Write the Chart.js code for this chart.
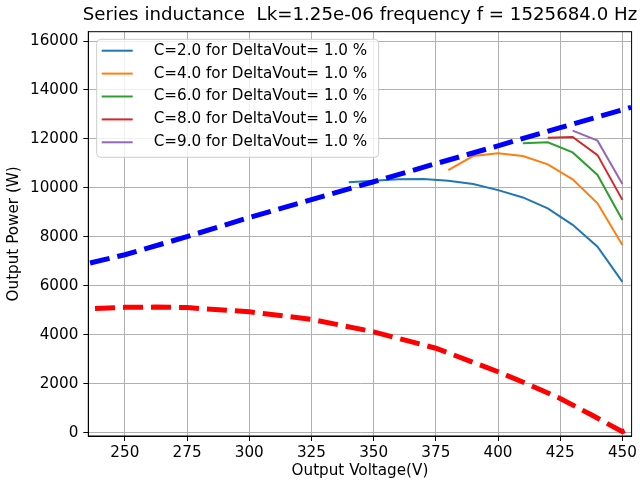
<!DOCTYPE html>
<html>
<head>
<meta charset="utf-8">
<script src="https://cdn.jsdelivr.net/npm/chart.js@4.4.0/dist/chart.umd.min.js"></script>
<style>
  html, body { margin: 0; padding: 0; background: #fff; }
  #wrap { position: relative; width: 640px; height: 485px; }
</style>
</head>
<body>
<div id="wrap"><canvas id="chart"></canvas></div>
<script>
// values
const xTicks = [250, 275, 300, 325, 350, 375, 400, 425, 450];
const yTicks = [0, 2000, 4000, 6000, 8000, 10000, 12000, 14000, 16000];

const voltsUpper = [236, 250, 275, 300, 325, 350, 375, 400, 425, 450, 453.5];
const powerUpper = [6930, 7270, 8010, 8790, 9520, 10250, 10990, 11720, 12460, 13190, 13290];

const voltsLower = [238, 250, 262, 275, 300, 325, 350, 375, 400, 412.5, 425, 437.5, 450, 453.5];
const powerLower = [5070, 5120, 5130, 5110, 4940, 4630, 4120, 3450, 2490, 1960, 1400, 730, 40, 220];

const voltsC2 = [340, 350, 360, 370, 380, 390, 400, 410, 420, 430, 440, 450];
const powerC2 = [10230, 10290, 10350, 10360, 10290, 10160, 9910, 9610, 9160, 8490, 7600, 6160];
const voltsC4 = [380, 390, 400, 410, 420, 430, 440, 450];
const powerC4 = [10730, 11300, 11410, 11300, 10960, 10350, 9370, 7670];
const voltsC6 = [410, 420, 430, 440, 450];
const powerC6 = [11820, 11860, 11450, 10530, 8690];
const voltsC8 = [420, 430, 440, 450];
const powerC8 = [12050, 12080, 11340, 9510];
const voltsC9 = [430, 440, 450];
const powerC9 = [12340, 11930, 10160];

const titleText = "Series inductance  Lk=1.25e-06 frequency f = 1525684.0 Hz";
const FONT = "'DejaVu Sans', sans-serif";

function pts(xs, ys) {
  return xs.map((x, i) => ({ x: x, y: ys[i] }));
}

function solid(label, xs, ys, color) {
  return {
    label: label, data: pts(xs, ys), borderColor: color, backgroundColor: color,
    borderWidth: 2, pointRadius: 0, fill: false, tension: 0, inLegend: true, order: 2
  };
}

function dashed(xs, ys, color) {
  return {
    label: "", data: pts(xs, ys), borderColor: color, backgroundColor: color,
    borderWidth: 5, borderDash: [20, 8], borderCapStyle: "butt", pointRadius: 0,
    fill: false, tension: 0, inLegend: false, order: 1
  };
}

// matplotlib-like title, full frame and legend inside the axes
const decor = {
  id: "decor",
  afterDatasetsDraw(chart) {
    const ctx = chart.ctx;
    const a = chart.chartArea;
    ctx.save();
    ctx.strokeStyle = "#000";
    ctx.lineWidth = 1;
    ctx.strokeRect(a.left, a.top, a.right - a.left, a.bottom - a.top);

    ctx.fillStyle = "#000";
    ctx.font = "18.2px " + FONT;
    ctx.textAlign = "center";
    ctx.textBaseline = "middle";
    ctx.fillText(titleText, (a.left + a.right) / 2, 15);

    const items = chart.data.datasets.filter(d => d.inLegend);
    const bx = a.left + 8.4, by = a.top + 7.6, bw = 282, bh = 118;
    ctx.beginPath();
    ctx.roundRect(bx, by, bw, bh, 4);
    ctx.fillStyle = "rgba(255,255,255,0.8)";
    ctx.fill();
    ctx.strokeStyle = "#cccccc";
    ctx.stroke();
    ctx.font = "15.2px " + FONT;
    ctx.textAlign = "left";
    items.forEach((d, i) => {
      const yy = by + 11.4 + i * 22.9;
      ctx.strokeStyle = d.borderColor;
      ctx.lineWidth = 2;
      ctx.beginPath();
      ctx.moveTo(bx + 5, yy);
      ctx.lineTo(bx + 36, yy);
      ctx.stroke();
      ctx.fillStyle = "#000";
      ctx.fillText(d.label, bx + 57, yy);
    });
    ctx.restore();
  }
};

Chart.defaults.color = "#000";
Chart.defaults.font.family = FONT;
Chart.defaults.font.size = 15.2;

new Chart(document.getElementById("chart"), {
  type: "line",
  data: {
    datasets: [
      dashed(voltsUpper, powerUpper, "#0000ff"),
      dashed(voltsLower, powerLower, "#ff0000"),
      solid("C=2.0 for DeltaVout= 1.0 %", voltsC2, powerC2, "#1f77b4"),
      solid("C=4.0 for DeltaVout= 1.0 %", voltsC4, powerC4, "#ff7f0e"),
      solid("C=6.0 for DeltaVout= 1.0 %", voltsC6, powerC6, "#2ca02c"),
      solid("C=8.0 for DeltaVout= 1.0 %", voltsC8, powerC8, "#d62728"),
      solid("C=9.0 for DeltaVout= 1.0 %", voltsC9, powerC9, "#9467bd")
    ]
  },
  options: {
    responsive: true,
    maintainAspectRatio: false,
    animation: false,
    layout: { padding: { top: 31.7, right: 6.7, bottom: 0, left: 0 } },
    plugins: { legend: { display: false }, title: { display: false }, tooltip: { enabled: false } },
    scales: {
      x: {
        type: "linear",
        min: 235.3,
        max: 453.7,
        afterBuildTicks: s => { s.ticks = xTicks.map(v => ({ value: v })); },
        afterFit: s => { s.height = 49; },
        ticks: { padding: 3, maxRotation: 0, autoSkip: false, callback: v => String(v) },
        grid: { color: "#b0b0b0", lineWidth: 1, tickColor: "#000", tickLength: 5 },
        border: { color: "#000", width: 1 },
        title: { display: true, text: "Output Voltage(V)", padding: { top: 0, bottom: 4.9 } }
      },
      y: {
        type: "linear",
        min: -135,
        max: 16380,
        afterBuildTicks: s => { s.ticks = yTicks.map(v => ({ value: v })); },
        afterFit: s => { s.width = 88.3; },
        ticks: { padding: 5, autoSkip: false, callback: v => String(v) },
        grid: { color: "#b0b0b0", lineWidth: 1, tickColor: "#000", tickLength: 5 },
        border: { color: "#000", width: 1 },
        title: { display: true, text: "Output Power (W)", padding: { top: 5.4, bottom: 0 } }
      }
    }
  },
  plugins: [decor]
});
</script>
</body>
</html>
